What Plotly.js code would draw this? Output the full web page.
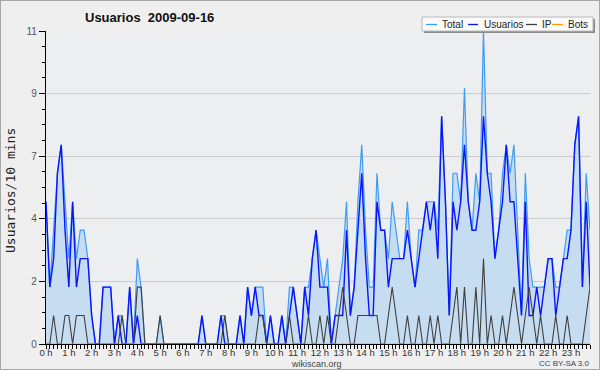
<!DOCTYPE html>
<html>
<head>
<meta charset="utf-8">
<script src="https://cdn.plot.ly/plotly-3.0.1.min.js"></script>
<style>
  html, body { margin: 0; padding: 0; background: #efefef; }
  #wrap { position: relative; width: 600px; height: 370px; overflow: hidden; }
  #chart { width: 600px; height: 370px; }
  #frame { position: absolute; left: 0; top: 0; width: 600px; height: 370px; box-sizing: border-box;
           border: 1px solid #a8a8a8; pointer-events: none; }
</style>
</head>
<body>
<div id="wrap"><div id="chart"></div><div id="frame"></div></div>
<script>
// ---- data: one value per 10-minute slot, 2009-09-16 ----
const slotMinutes = 10;

const usuarios = [
  5,2,3,6,7,4,2,5,2,3,3,3,
  1,0,0,2,2,2,0,1,0,0,2,0,
  1,0,0,0,0,0,0,0,0,0,0,0,
  0,0,0,0,0,1,0,0,0,0,1,0,
  0,0,0,1,0,2,1,2,1,1,0,1,
  0,0,1,0,1,2,1,0,2,1,3,4,
  2,2,2,0,1,1,1,4,1,2,4,6,
  3,1,1,5,4,4,2,3,3,3,3,4,
  3,2,3,4,5,4,5,3,8,5,1,5,
  4,5,7,5,4,4,5,8,6,5,3,4,
  5,7,5,5,3,1,5,1,1,2,1,2,
  3,3,1,2,3,3,4,7,8,2,5,2
];

const ip = [
  0,0,1,0,0,1,1,0,1,1,1,0,
  0,0,0,0,0,0,0,0,1,0,0,0,
  2,2,0,0,0,0,1,0,0,0,0,0,
  0,0,0,0,0,0,0,0,0,0,0,1,
  0,0,0,0,0,0,0,0,1,1,0,0,
  0,0,0,0,1,0,0,0,0,1,0,0,
  1,0,1,0,0,1,2,1,0,0,1,1,
  1,1,1,1,0,0,1,2,1,0,0,1,
  0,0,1,0,0,1,0,1,0,0,0,1,
  2,0,2,0,0,2,0,3,0,1,0,0,
  1,0,1,2,1,0,1,2,1,0,1,0,
  0,0,1,0,0,1,0,0,0,0,1,2
];

const total = [
  5,2,4,6,7,5,3,5,3,4,4,3,
  1,0,0,2,2,2,0,1,1,0,2,0,
  3,2,0,0,0,0,1,0,0,0,0,0,
  0,0,0,0,0,1,0,0,0,0,1,1,
  0,0,0,1,0,2,1,2,2,2,0,1,
  0,0,1,0,2,2,1,0,2,2,3,4,
  3,2,3,0,1,2,3,5,1,2,5,7,
  4,2,2,6,4,4,3,5,4,3,3,5,
  3,2,4,4,5,5,5,4,8,5,1,6,
  6,5,9,5,4,6,5,11,6,6,3,4,
  6,7,6,7,4,1,6,3,2,2,2,2,
  3,3,2,2,3,4,4,7,8,2,6,4
];

const bots = [
  0,0,0,0,0,0,0,0,0,0,0,0,
  0,0,0,0,0,0,0,0,0,0,0,0,
  0,0,0,0,0,0,0,0,0,0,0,0,
  0,0,0,0,0,0,0,0,0,0,0,0,
  0,0,0,0,0,0,0,0,0,0,0,0,
  0,0,0,0,0,0,0,0,0,0,0,0,
  0,0,0,0,0,0,0,0,0,0,0,0,
  0,0,0,0,0,0,0,0,0,0,0,0,
  0,0,0,0,0,0,0,0,0,0,0,0,
  0,0,0,0,0,0,0,0,0,0,0,0,
  0,0,0,0,0,0,0,0,0,0,0,0,
  0,0,0,0,0,0,0,0,0,0,0,0
];

const hourTickVals = [0,60,120,180,240,300,360,420,480,540,600,660,720,780,840,900,960,1020,1080,1140,1200,1260,1320,1380];
const hourTickText = ["0 h","1 h","2 h","3 h","4 h","5 h","6 h","7 h","8 h","9 h","10 h","11 h","12 h","13 h","14 h","15 h","16 h","17 h","18 h","19 h","20 h","21 h","22 h","23 h"];
const yTickVals = [0, 2.2, 4.4, 6.6, 8.8, 11];
const yTickText = ["0","2","4","7","9","11"];
const seriesNames = ["Total","Usuarios","IP","Bots"];
const chartTitle = "Usuarios&nbsp;&nbsp;2009-09-16";
const yTitle = "Usuarios/10 mins";

// ---- layout helpers (pixel -> paper) ----
const L = 46, R = 590, T = 31, B = 344;
const fx = px => (px - L) / (R - L);
const fy = py => (B - py) / (B - T);

const minutes = usuarios.map((_, i) => i * slotMinutes);
const colors = { total: "#3d9df5", fill: "#c6dcf0", usuarios: "#0a14ff", ip: "#404040", bots: "#ff9900" };
const FONT = "Liberation Sans, Arial, sans-serif";

const traces = [
  { x: minutes, y: total, name: seriesNames[0], type: "scatter", mode: "lines",
    line: { color: colors.total, width: 1.2 }, fill: "tozeroy", fillcolor: colors.fill },
  { x: minutes, y: usuarios, name: seriesNames[1], type: "scatter", mode: "lines",
    line: { color: colors.usuarios, width: 1.4 } },
  { x: minutes, y: ip, name: seriesNames[2], type: "scatter", mode: "lines",
    line: { color: colors.ip, width: 1.1 } },
  { x: minutes, y: bots, name: seriesNames[3], type: "scatter", mode: "lines",
    line: { color: colors.bots, width: 0.8 } }
];

// custom legend
const legendItems = [
  { name: seriesNames[0], color: colors.total, x0: 426, x1: 437, tx: 442 },
  { name: seriesNames[1], color: colors.usuarios, x0: 468, x1: 478, tx: 484 },
  { name: seriesNames[2], color: colors.ip, x0: 526, x1: 537, tx: 542 },
  { name: seriesNames[3], color: colors.bots, x0: 552, x1: 563, tx: 568 }
];

const shapes = [
  { type: "rect", xref: "paper", yref: "paper", x0: fx(424), x1: fx(595), y0: fy(33), y1: fy(19),
    fillcolor: "#8c8c8c", line: { width: 0 } },
  { type: "rect", xref: "paper", yref: "paper", x0: fx(422), x1: fx(593), y0: fy(31), y1: fy(17),
    fillcolor: "#fbfbfb", line: { color: "#b8b8b8", width: 1 } }
];
const annotations = [];
legendItems.forEach(it => {
  shapes.push({ type: "line", xref: "paper", yref: "paper", x0: fx(it.x0), x1: fx(it.x1), y0: fy(24.5), y1: fy(24.5),
    line: { color: it.color, width: 1.3 } });
  annotations.push({ xref: "paper", yref: "paper", x: fx(it.tx - 2), y: fy(24), xanchor: "left", yanchor: "middle",
    text: it.name, showarrow: false, font: { family: FONT, size: 10, color: "#222" } });
});

annotations.push({ xref: "paper", yref: "paper", x: fx(10), y: fy(191), xanchor: "center", yanchor: "middle",
  text: yTitle, textangle: -90, showarrow: false, font: { family: "DejaVu Sans Mono, monospace", size: 13, color: "#222" } });
annotations.push({ xref: "paper", yref: "paper", x: fx(316), y: fy(363.5), xanchor: "center", yanchor: "middle",
  text: "wikiscan.org", showarrow: false, font: { family: FONT, size: 9, color: "#444" } });
annotations.push({ xref: "paper", yref: "paper", x: fx(592), y: fy(363), xanchor: "right", yanchor: "middle",
  text: "CC BY-SA 3.0", showarrow: false, font: { family: FONT, size: 8, color: "#444" } });

const layout = {
  width: 600, height: 370,
  margin: { l: L, r: 600 - R, t: T, b: 370 - B, pad: 0 },
  paper_bgcolor: "#efefef",
  plot_bgcolor: "#eceef0",
  showlegend: false,
  title: { text: chartTitle, x: 85 / 600, xanchor: "left", xref: "container",
           y: 1 - 17 / 370, yanchor: "middle", yref: "container",
           font: { family: FONT, size: 13, color: "#111", weight: "bold" } },
  xaxis: {
    range: [0, (usuarios.length - 1) * slotMinutes],
    tickmode: "array", tickvals: hourTickVals, ticktext: hourTickText,
    ticks: "outside", ticklen: 4, tickcolor: "#000", tickwidth: 1,
    ticklabelstandoff: -5,
    minor: { tickmode: "linear", tick0: 0, dtick: slotMinutes, ticks: "outside", ticklen: 4, tickcolor: "#000", showgrid: false },
    showline: true, linecolor: "#000", linewidth: 1.2,
    showgrid: false, zeroline: false,
    tickfont: { family: FONT, size: 9.5, color: "#333" }
  },
  yaxis: {
    range: [0, 11],
    tickmode: "array", tickvals: yTickVals, ticktext: yTickText,
    ticks: "outside", ticklen: 6, tickcolor: "#000", tickwidth: 1,
    minor: { tickmode: "linear", tick0: 0, dtick: 0.55, ticks: "outside", ticklen: 3, tickcolor: "#000", showgrid: false },
    showline: true, linecolor: "#000", linewidth: 1.2,
    showgrid: true, gridcolor: "#cccccc", gridwidth: 1, zeroline: false,
    tickfont: { family: FONT, size: 10, color: "#555" }
  },
  shapes: shapes,
  annotations: annotations
};

Plotly.newPlot("chart", traces, layout, { displayModeBar: false, staticPlot: true });
</script>
</body>
</html>
